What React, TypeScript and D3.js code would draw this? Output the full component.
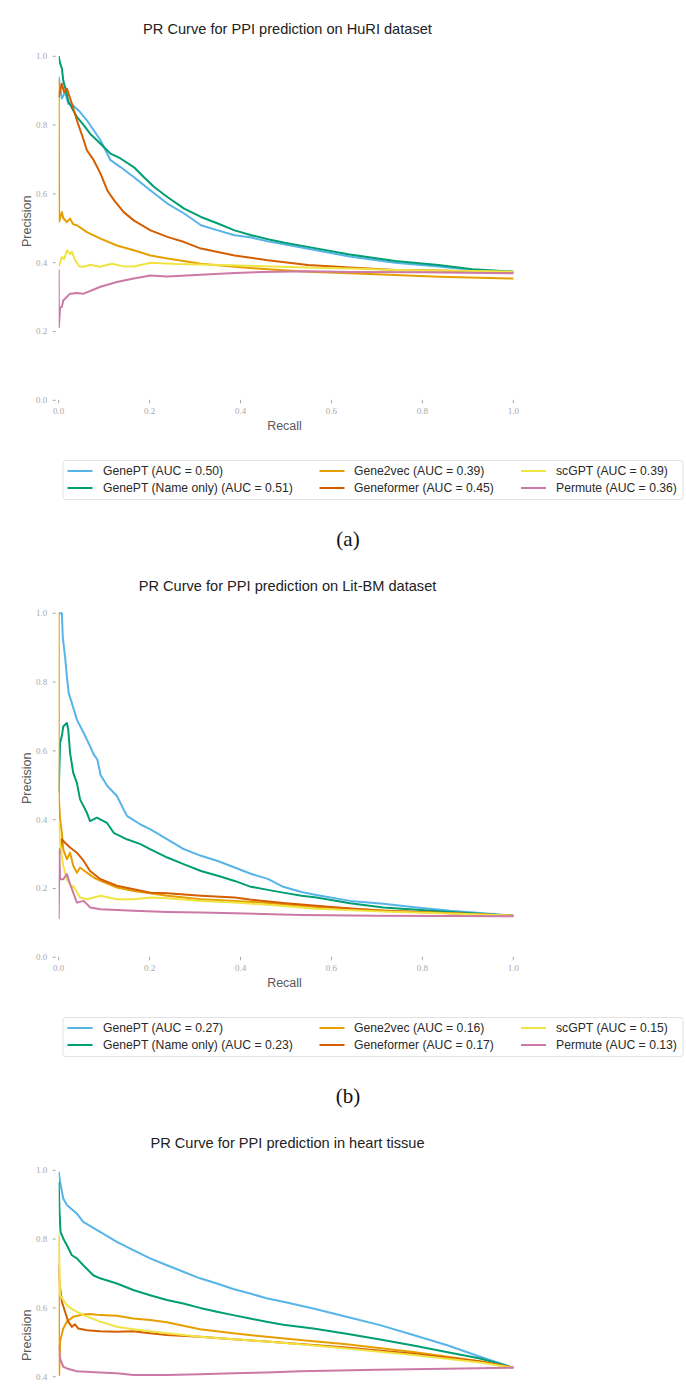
import React from "react";
import * as d3 from "d3";

type Pt = [number, number];

// ---------- categories / labels ----------
const modelNames = ["GenePT", "GenePT (Name only)", "Gene2vec", "Geneformer", "scGPT", "Permute"];
const modelColors = ["#56B4E9", "#009E73", "#E69F00", "#D55E00", "#F0E442", "#CC79A7"];
const huriAUC = ["0.50", "0.51", "0.39", "0.45", "0.39", "0.36"];
const litbmAUC = ["0.27", "0.23", "0.16", "0.17", "0.15", "0.13"];
const xTickValues = [0, 0.2, 0.4, 0.6, 0.8, 1.0];
const yTickValues = [0, 0.2, 0.4, 0.6, 0.8, 1.0];
const panelTitles = [
  "PR Curve for PPI prediction on HuRI dataset",
  "PR Curve for PPI prediction on Lit-BM dataset",
  "PR Curve for PPI prediction in heart tissue",
];
const captions = ["(a)", "(b)", null];

// ---------- (a) HuRI ----------
const huriGenePT: Pt[] = [
  [0, 0.94], [0.003, 0.91], [0.007, 0.877], [0.014, 0.896], [0.021, 0.862], [0.032, 0.857], [0.047, 0.838],
  [0.062, 0.814], [0.077, 0.785], [0.092, 0.756], [0.114, 0.698], [0.136, 0.678], [0.165, 0.649], [0.202, 0.61],
  [0.239, 0.572], [0.276, 0.543], [0.313, 0.509], [0.35, 0.494], [0.387, 0.48], [0.424, 0.473], [0.46, 0.462],
  [0.534, 0.444], [0.64, 0.418], [0.74, 0.4], [0.835, 0.389], [0.91, 0.379], [1.0, 0.374],
];
const huriGenePTName: Pt[] = [
  [0, 1.0], [0.003, 0.98], [0.007, 0.965], [0.01, 0.93], [0.014, 0.91], [0.021, 0.87], [0.029, 0.85],
  [0.04, 0.824], [0.055, 0.8], [0.069, 0.775], [0.092, 0.746], [0.114, 0.717], [0.136, 0.703], [0.165, 0.678],
  [0.187, 0.649], [0.21, 0.62], [0.239, 0.591], [0.276, 0.557], [0.313, 0.533], [0.35, 0.514], [0.387, 0.494],
  [0.424, 0.48], [0.46, 0.468], [0.497, 0.458], [0.548, 0.446], [0.64, 0.424], [0.74, 0.405], [0.835, 0.393],
  [0.91, 0.381], [1.0, 0.374],
];
const huriGene2vec: Pt[] = [
  [0, 0.93], [0.001, 0.52], [0.007, 0.547], [0.01, 0.53], [0.018, 0.518], [0.025, 0.528], [0.032, 0.512],
  [0.04, 0.509], [0.062, 0.489], [0.092, 0.47], [0.128, 0.45], [0.165, 0.436], [0.202, 0.421], [0.239, 0.412],
  [0.313, 0.397], [0.387, 0.388], [0.46, 0.381], [0.548, 0.374], [0.64, 0.369], [0.74, 0.364], [0.835, 0.359],
  [1.0, 0.354],
];
const huriGeneformer: Pt[] = [
  [0, 0.88], [0.003, 0.9], [0.007, 0.92], [0.012, 0.895], [0.018, 0.906], [0.029, 0.862], [0.04, 0.814],
  [0.055, 0.756], [0.062, 0.727], [0.077, 0.698], [0.092, 0.659], [0.107, 0.61], [0.122, 0.581], [0.143, 0.547],
  [0.165, 0.523], [0.202, 0.494], [0.239, 0.475], [0.276, 0.46], [0.313, 0.441], [0.387, 0.421], [0.46, 0.407],
  [0.548, 0.393], [0.64, 0.386], [0.74, 0.379], [0.835, 0.377], [1.0, 0.371],
];
const huriScGPT: Pt[] = [
  [0, 0.388], [0.007, 0.417], [0.012, 0.41], [0.018, 0.436], [0.025, 0.425], [0.029, 0.432], [0.035, 0.41],
  [0.045, 0.39], [0.055, 0.388], [0.07, 0.394], [0.09, 0.388], [0.117, 0.397], [0.14, 0.39], [0.165, 0.389],
  [0.203, 0.4], [0.26, 0.396], [0.356, 0.393], [0.45, 0.39], [0.548, 0.386], [0.64, 0.383], [0.74, 0.379],
  [0.835, 0.377], [1.0, 0.374],
];
const huriPermute: Pt[] = [
  [0, 0.38], [0.0005, 0.213], [0.003, 0.27], [0.007, 0.272], [0.01, 0.29], [0.025, 0.31], [0.04, 0.312],
  [0.055, 0.31], [0.092, 0.33], [0.128, 0.344], [0.165, 0.354], [0.202, 0.363], [0.239, 0.36], [0.313, 0.365],
  [0.387, 0.37], [0.45, 0.373], [0.548, 0.375], [0.64, 0.373], [0.8, 0.372], [1.0, 0.369],
];

// ---------- (b) Lit-BM ----------
const litGenePT: Pt[] = [
  [0, 1.0], [0.007, 1.0], [0.009, 0.93], [0.014, 0.874], [0.018, 0.816], [0.022, 0.768], [0.029, 0.739],
  [0.04, 0.691], [0.055, 0.652], [0.069, 0.614], [0.077, 0.59], [0.085, 0.575], [0.092, 0.53], [0.107, 0.498],
  [0.128, 0.469], [0.15, 0.411], [0.18, 0.386], [0.202, 0.372], [0.239, 0.343], [0.276, 0.314], [0.313, 0.295],
  [0.35, 0.28], [0.387, 0.261], [0.424, 0.242], [0.46, 0.228], [0.494, 0.205], [0.534, 0.19], [0.567, 0.181],
  [0.641, 0.164], [0.714, 0.156], [0.788, 0.145], [0.861, 0.135], [0.934, 0.128], [1.0, 0.121],
];
const litGenePTName: Pt[] = [
  [0, 0.478], [0.003, 0.623], [0.007, 0.643], [0.01, 0.671], [0.018, 0.681], [0.021, 0.662], [0.025, 0.594],
  [0.032, 0.536], [0.04, 0.507], [0.047, 0.459], [0.062, 0.42], [0.069, 0.396], [0.084, 0.406], [0.106, 0.391],
  [0.121, 0.362], [0.15, 0.343], [0.18, 0.329], [0.202, 0.314], [0.239, 0.29], [0.276, 0.27], [0.313, 0.251],
  [0.35, 0.237], [0.387, 0.222], [0.42, 0.206], [0.46, 0.196], [0.494, 0.188], [0.534, 0.179], [0.567, 0.174],
  [0.641, 0.157], [0.714, 0.145], [0.788, 0.138], [0.861, 0.132], [0.934, 0.126], [1.0, 0.121],
];
const litGene2vec: Pt[] = [
  [0, 1.0], [0.0005, 0.459], [0.003, 0.401], [0.007, 0.362], [0.01, 0.314], [0.018, 0.285], [0.025, 0.304],
  [0.032, 0.266], [0.04, 0.246], [0.047, 0.261], [0.062, 0.246], [0.077, 0.232], [0.092, 0.222], [0.128, 0.203],
  [0.165, 0.193], [0.239, 0.179], [0.313, 0.169], [0.387, 0.164], [0.46, 0.158], [0.567, 0.146], [0.714, 0.136],
  [0.861, 0.128], [1.0, 0.121],
];
const litGeneformer: Pt[] = [
  [0, 0.3], [0.003, 0.304], [0.007, 0.343], [0.014, 0.333], [0.025, 0.319], [0.04, 0.304], [0.055, 0.28],
  [0.069, 0.251], [0.092, 0.227], [0.128, 0.208], [0.165, 0.198], [0.202, 0.188], [0.239, 0.186], [0.313, 0.179],
  [0.387, 0.174], [0.42, 0.168], [0.494, 0.158], [0.567, 0.15], [0.641, 0.142], [0.714, 0.135], [0.788, 0.132],
  [0.861, 0.128], [1.0, 0.121],
];
const litScGPT: Pt[] = [
  [0, 0.391], [0.003, 0.333], [0.01, 0.266], [0.018, 0.227], [0.029, 0.203], [0.032, 0.208], [0.047, 0.174],
  [0.062, 0.169], [0.092, 0.179], [0.128, 0.169], [0.165, 0.169], [0.202, 0.174], [0.239, 0.172], [0.313, 0.164],
  [0.387, 0.159], [0.46, 0.153], [0.534, 0.145], [0.567, 0.141], [0.714, 0.133], [0.861, 0.127], [1.0, 0.121],
];
const litPermute: Pt[] = [
  [0, 0.111], [0.0015, 0.314], [0.003, 0.227], [0.01, 0.227], [0.018, 0.242], [0.025, 0.213], [0.04, 0.159],
  [0.055, 0.164], [0.069, 0.145], [0.092, 0.14], [0.165, 0.135], [0.239, 0.132], [0.313, 0.13], [0.387, 0.128],
  [0.534, 0.123], [0.7, 0.121], [0.86, 0.12], [1.0, 0.119],
];

// ---------- (c) heart tissue ----------
const heartGenePT: Pt[] = [
  [0, 0.996], [0.003, 0.967], [0.01, 0.918], [0.018, 0.899], [0.04, 0.874], [0.054, 0.85], [0.091, 0.821],
  [0.128, 0.792], [0.164, 0.768], [0.201, 0.744], [0.238, 0.724], [0.274, 0.705], [0.311, 0.686], [0.348, 0.671],
  [0.384, 0.655], [0.421, 0.642], [0.457, 0.628], [0.494, 0.618], [0.56, 0.598], [0.633, 0.574], [0.707, 0.55],
  [0.78, 0.521], [0.853, 0.492], [0.927, 0.458], [1.0, 0.426],
];
const heartGenePTName: Pt[] = [
  [0, 0.967], [0.0015, 0.889], [0.004, 0.821], [0.01, 0.802], [0.018, 0.782], [0.029, 0.753], [0.04, 0.744],
  [0.054, 0.724], [0.076, 0.695], [0.091, 0.686], [0.128, 0.671], [0.164, 0.652], [0.201, 0.637], [0.238, 0.623],
  [0.274, 0.613], [0.311, 0.6], [0.348, 0.589], [0.384, 0.579], [0.421, 0.569], [0.457, 0.56], [0.494, 0.551],
  [0.56, 0.54], [0.633, 0.525], [0.707, 0.508], [0.78, 0.491], [0.853, 0.472], [0.927, 0.453], [1.0, 0.426],
];
const heartGene2vec: Pt[] = [
  [0, 0.81], [0.001, 0.405], [0.003, 0.502], [0.01, 0.54], [0.018, 0.56], [0.032, 0.574], [0.054, 0.581],
  [0.069, 0.582], [0.091, 0.579], [0.128, 0.577], [0.164, 0.569], [0.201, 0.565], [0.238, 0.558], [0.274, 0.548],
  [0.311, 0.538], [0.384, 0.526], [0.457, 0.516], [0.531, 0.507], [0.633, 0.494], [0.78, 0.472], [0.927, 0.445],
  [1.0, 0.426],
];
const heartGeneformer: Pt[] = [
  [0, 0.724], [0.0015, 0.676], [0.007, 0.618], [0.014, 0.589], [0.021, 0.56], [0.029, 0.545], [0.036, 0.552],
  [0.043, 0.54], [0.062, 0.535], [0.091, 0.532], [0.128, 0.531], [0.164, 0.532], [0.201, 0.526], [0.238, 0.521],
  [0.311, 0.516], [0.384, 0.509], [0.457, 0.502], [0.531, 0.495], [0.633, 0.485], [0.78, 0.467], [0.927, 0.444],
  [1.0, 0.426],
];
const heartScGPT: Pt[] = [
  [0, 0.82], [0.003, 0.637], [0.01, 0.623], [0.018, 0.608], [0.032, 0.594], [0.054, 0.579], [0.091, 0.56],
  [0.128, 0.545], [0.164, 0.538], [0.201, 0.532], [0.238, 0.526], [0.311, 0.516], [0.384, 0.509], [0.457, 0.502],
  [0.531, 0.494], [0.633, 0.482], [0.78, 0.463], [0.927, 0.441], [1.0, 0.426],
];
const heartPermute: Pt[] = [
  [0, 0.492], [0.003, 0.453], [0.01, 0.429], [0.018, 0.424], [0.04, 0.416], [0.091, 0.412], [0.128, 0.41],
  [0.164, 0.405], [0.238, 0.405], [0.311, 0.407], [0.384, 0.41], [0.457, 0.412], [0.531, 0.416], [0.7, 0.42],
  [0.85, 0.423], [1.0, 0.426],
];

const panelSeries: Pt[][][] = [
  [huriGenePT, huriGenePTName, huriGene2vec, huriGeneformer, huriScGPT, huriPermute],
  [litGenePT, litGenePTName, litGene2vec, litGeneformer, litScGPT, litPermute],
  [heartGenePT, heartGenePTName, heartGene2vec, heartGeneformer, heartScGPT, heartPermute],
];
const panelAUC: (string[] | null)[] = [huriAUC, litbmAUC, null];

// ---------- layout ----------
const W = 686;
const H = 1399;
const PANEL_STEP = 557;
const X0 = 58.7;
const X1 = 513.3;
const TOP = 56.3;
const BOTTOM = 400.3;
const SANS = "'Liberation Sans', Arial, Helvetica, sans-serif";
const SERIF = "'Liberation Serif', 'Times New Roman', serif";
const TICK_COLOR = "#a8a8a8";
const LEGEND_LINE_X = [67.5, 319.5, 521];
const LEGEND_TEXT_X = [103, 354, 556];
const LEGEND_ROW_Y = [471, 488];
const inPage = (yy: number) => yy < H - 8;

function Panel({ idx }: { idx: number }) {
  const oy = idx * PANEL_STEP;
  const x = d3.scaleLinear().domain([0, 1]).range([X0, X1]);
  const y = d3.scaleLinear().domain([0, 1]).range([oy + BOTTOM, oy + TOP]);
  const line = d3
    .line<Pt>()
    .x((d) => x(d[0]))
    .y((d) => y(d[1]));
  const fmt = d3.format(".1f");
  const clipId = `clip-${idx}`;
  const series = panelSeries[idx];
  const auc = panelAUC[idx];
  const caption = captions[idx];
  const y0 = y(0);

  return (
    <g>
      <defs>
        <clipPath id={clipId}>
          <rect x={X0} y={oy + TOP - 4} width={X1 - X0 + 4} height={BOTTOM - TOP + 8} />
        </clipPath>
      </defs>
      <text
        x={287.5}
        y={oy + 28.5}
        dy="0.35em"
        textAnchor="middle"
        fontFamily={SANS}
        fontSize={14.6}
        fill="#222"
      >
        {panelTitles[idx]}
      </text>

      {/* y ticks */}
      {yTickValues
        .filter((v) => inPage(y(v)))
        .map((v) => (
          <g key={`y${v}`}>
            <line x1={X0 - 6} x2={X0 - 3} y1={y(v)} y2={y(v)} stroke={TICK_COLOR} strokeWidth={1} />
            <text
              x={X0 - 11.5}
              y={y(v)}
              dy="0.33em"
              textAnchor="end"
              fontFamily={SERIF}
              fontSize={9}
              fill={TICK_COLOR}
            >
              {fmt(v)}
            </text>
          </g>
        ))}
      {/* x ticks */}
      {inPage(y0 + 12) &&
        xTickValues.map((v) => (
          <g key={`x${v}`}>
            <line x1={x(v)} x2={x(v)} y1={y0 - 0.5} y2={y0 + 3} stroke={TICK_COLOR} strokeWidth={1} />
            <text
              x={x(v)}
              y={y0 + 10.5}
              dy="0.33em"
              textAnchor="middle"
              fontFamily={SERIF}
              fontSize={9}
              fill={TICK_COLOR}
            >
              {fmt(v)}
            </text>
          </g>
        ))}

      {inPage(y0 + 30) && (
        <text
          x={284.5}
          y={y0 + 25.5}
          dy="0.35em"
          textAnchor="middle"
          fontFamily={SANS}
          fontSize={12.5}
          fill="#5a5a5a"
        >
          Recall
        </text>
      )}
      <text
        transform={`translate(27, ${(y(0) + y(1)) / 2 - 7}) rotate(-90)`}
        dy="0.35em"
        textAnchor="middle"
        fontFamily={SANS}
        fontSize={12.5}
        fill="#5a5a5a"
      >
        Precision
      </text>

      <g clipPath={`url(#${clipId})`}>
        {series.map((s, i) => (
          <path
            key={i}
            d={line(s) || ""}
            fill="none"
            stroke={modelColors[i]}
            strokeWidth={2}
            strokeLinejoin="round"
            strokeLinecap="butt"
          />
        ))}
      </g>

      {auc && (
        <g>
          <rect
            x={63}
            y={oy + 460.5}
            width={620}
            height={39}
            rx={3}
            fill="#fff"
            stroke="#e2e2e2"
            strokeWidth={1}
          />
          {modelNames.map((name, i) => {
            const col = Math.floor(i / 2);
            const row = i % 2;
            const ly = oy + LEGEND_ROW_Y[row];
            return (
              <g key={name}>
                <line
                  x1={LEGEND_LINE_X[col]}
                  x2={LEGEND_LINE_X[col] + 25}
                  y1={ly}
                  y2={ly}
                  stroke={modelColors[i]}
                  strokeWidth={2}
                />
                <text
                  x={LEGEND_TEXT_X[col]}
                  y={ly}
                  dy="0.35em"
                  fontFamily={SANS}
                  fontSize={12.2}
                  fill="#2a2a2a"
                >
                  {`${name} (AUC = ${auc[i]})`}
                </text>
              </g>
            );
          })}
        </g>
      )}

      {caption && (
        <text
          x={348}
          y={oy + 539}
          dy="0.35em"
          textAnchor="middle"
          fontFamily={SERIF}
          fontSize={21}
          fill="#111"
        >
          {caption}
        </text>
      )}
    </g>
  );
}

export default function App() {
  return (
    <svg
      width={W}
      height={H}
      viewBox={`0 0 ${W} ${H}`}
      style={{ position: "absolute", left: 0, top: 0, display: "block", background: "#fff" }}
    >
      <rect x={0} y={0} width={W} height={H} fill="#fff" />
      {[0, 1, 2].map((i) => (
        <Panel key={i} idx={i} />
      ))}
    </svg>
  );
}
